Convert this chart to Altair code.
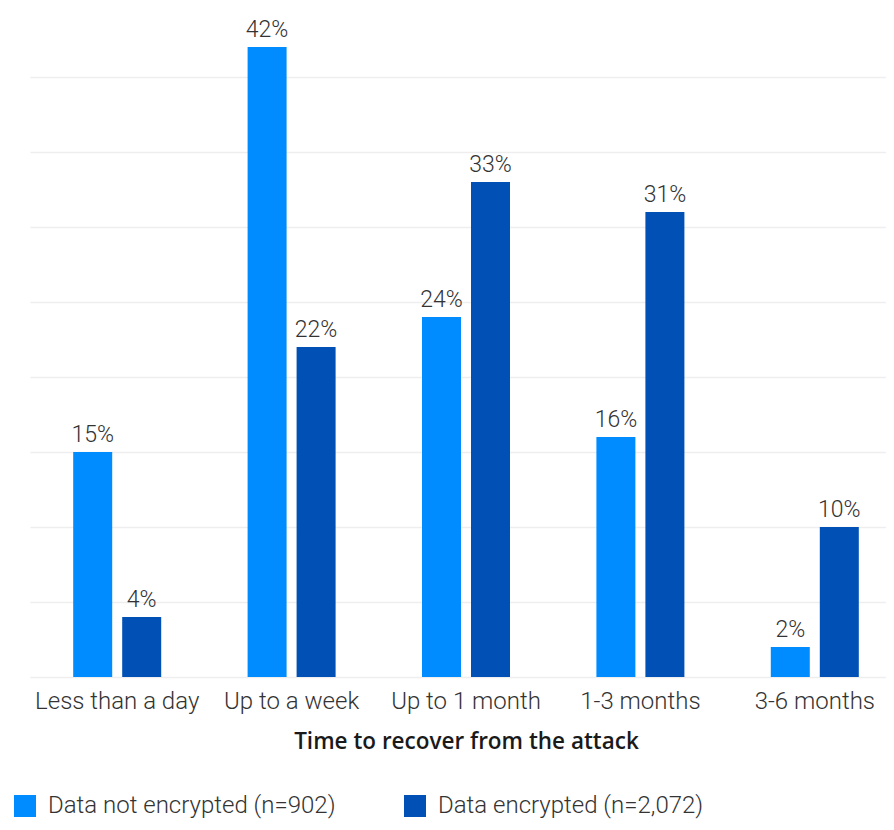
import altair as alt
import pandas as pd

categories = ["Less than a day", "Up to a week", "Up to 1 month", "1-3 months", "3-6 months"]
series = ["Data not encrypted (n=902)", "Data encrypted (n=2,072)"]
not_encrypted = [15, 42, 24, 16, 2]
encrypted = [4, 22, 33, 31, 10]
colors = ["#008CFF", "#0050B5"]

rows = []
for c, a, b in zip(categories, not_encrypted, encrypted):
    rows.append({"cat": c, "series": series[0], "value": a})
    rows.append({"cat": c, "series": series[1], "value": b})
df = pd.DataFrame(rows)
df["label"] = df["value"].astype(str) + "%"

FONT = "Roboto"
TXT = "#333333"

x = alt.X(
    "cat:N",
    sort=categories,
    scale=alt.Scale(range=[0, 872], paddingInner=0.4954, paddingOuter=0.2477),
    axis=alt.Axis(
        title="Time to recover from the attack",
        labelAngle=0,
        labelFontSize=24,
        labelFont=FONT,
        labelFontWeight=300,
        labelColor=TXT,
        labelPadding=12,
        labelLimit=400,
        ticks=False,
        domain=False,
        titleFont="Open Sans",
        titleFontSize=22.5,
        titleFontWeight=600,
        titleColor="#1a1a1a",
        titlePadding=17,
    ),
)
xo = alt.XOffset("series:N", sort=series, scale=alt.Scale(paddingInner=10 / 49, paddingOuter=0))
y = alt.Y(
    "value:Q",
    scale=alt.Scale(domain=[0, 44.6], nice=False),
    axis=alt.Axis(
        values=[0, 5, 10, 15, 20, 25, 30, 35, 40],
        labels=False,
        ticks=False,
        domain=False,
        title=None,
        gridColor="#EEEEEE",
        gridWidth=1.5,
    ),
)

bars = alt.Chart(df).mark_bar().encode(
    x=x,
    xOffset=xo,
    y=y,
    color=alt.Color(
        "series:N",
        sort=series,
        scale=alt.Scale(domain=series, range=colors),
        legend=alt.Legend(
            title=None,
            orient="none",
            legendX=-17,
            legendY=786,
            direction="horizontal",
            symbolType="square",
            symbolSize=484,
            symbolStrokeWidth=0,
            symbolOpacity=1,
            labelFont=FONT,
            labelFontWeight=300,
            labelFontSize=24,
            labelColor=TXT,
            labelOffset=11,
            labelLimit=500,
            columnPadding=67,
        ),
    ),
)

labels = alt.Chart(df).mark_text(
    baseline="alphabetic", dy=-10, fontSize=23, font=FONT, fontWeight=300, color=TXT
).encode(x=x, xOffset=xo, y=y, text="label:N")

chart = (
    alt.layer(bars, labels)
    .properties(
        width=856,
        height=669,
        padding={"left": 22, "top": 0, "right": 0, "bottom": 145},
        autosize=alt.AutoSizeParams(type="none"),
        background="white",
    )
    .configure_view(stroke=None)
)

chart.save("out.html", embed_options={"renderer": "svg", "actions": False})
